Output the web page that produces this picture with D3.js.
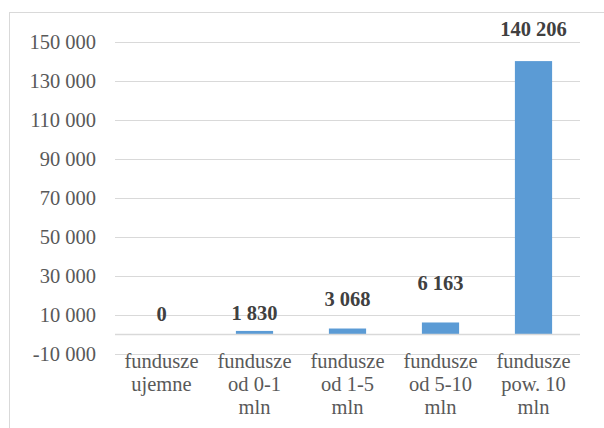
<!DOCTYPE html>
<html>
<head>
<meta charset="utf-8">
<script src="https://cdn.jsdelivr.net/npm/d3@7"></script>
<style>
  html, body { margin: 0; padding: 0; background: #fff; }
  svg { display: block; }
  svg text { font-family: 'Liberation Serif', 'Times New Roman', serif; font-size: 20.5px; }
</style>
</head>
<body>
<svg id="chart" width="604" height="428"></svg>
<script>
// Category labels (each entry is split into lines)
const categories = [
  ["fundusze", "ujemne"],
  ["fundusze", "od 0-1", "mln"],
  ["fundusze", "od 1-5", "mln"],
  ["fundusze", "od 5-10", "mln"],
  ["fundusze", "pow. 10", "mln"]
];
// Series values
const values = [0, 1830, 3068, 6163, 140206];
// Value axis ticks
const yTicks = [-10000, 10000, 30000, 50000, 70000, 90000, 110000, 130000, 150000];
const yDomain = [-10000, 150000];

// How far each data label sits above its bar end (px)
const labelLift = [14, 11, 23, 32, 25];

const W = 604, H = 428;
const plot = { left: 115, right: 580, top: 42, bottom: 354 };
const FONT = "'Liberation Serif', 'Times New Roman', serif";

const svg = d3.select("#chart");
// thousands separated by spaces, plain hyphen for negatives
const fmt = v => d3.format(",")(v).replace(/,/g, " ").replace("\u2212", "-");

// chart area border
svg.append("rect")
  .attr("x", 9.5).attr("y", 12.5)
  .attr("width", W + 10).attr("height", H + 10)
  .attr("fill", "#fff").attr("stroke", "#d9d9d9").attr("stroke-width", 1);

const x = d3.scaleBand()
  .domain(d3.range(categories.length))
  .range([plot.left, plot.right])
  .paddingInner(0.6).paddingOuter(0.3);

const xc = d3.scaleBand()
  .domain(d3.range(categories.length))
  .range([plot.left, plot.right]);

const y = d3.scaleLinear().domain(yDomain).range([plot.bottom, plot.top]);

// gridlines + tick labels via axis
const yAxis = d3.axisLeft(y)
  .tickValues(yTicks)
  .tickSize(-(plot.right - plot.left))
  .tickPadding(19)
  .tickFormat(fmt);

const gy = svg.append("g")
  .attr("transform", `translate(${plot.left},0)`)
  .call(yAxis)
  .attr("font-family", FONT)
  .attr("font-size", 20.5);
gy.select(".domain").remove();
gy.selectAll(".tick line").attr("stroke", "#d9d9d9").attr("stroke-width", 1);
gy.selectAll(".tick text").attr("fill", "#595959");

// bars
svg.append("g").selectAll("rect")
  .data(values)
  .join("rect")
  .attr("x", (d, i) => x(i))
  .attr("width", x.bandwidth())
  .attr("y", d => y(Math.max(0, d)))
  .attr("height", d => Math.abs(y(d) - y(0)))
  .attr("fill", "#5b9bd5");

// category axis line at zero
svg.append("line")
  .attr("x1", plot.left).attr("x2", plot.right)
  .attr("y1", y(0)).attr("y2", y(0))
  .attr("stroke", "#d9d9d9").attr("stroke-width", 1.3);

// data labels
svg.append("g").selectAll("text")
  .data(values)
  .join("text")
  .attr("x", (d, i) => xc(i) + xc.bandwidth() / 2)
  .attr("y", (d, i) => y(Math.max(0, d)) - labelLift[i])
  .attr("text-anchor", "middle")
  .attr("fill", "#404040")
  .style("font-weight", "bold")
  .text(d => fmt(d));

// category labels
const cat = svg.append("g").selectAll("text")
  .data(categories)
  .join("text")
  .attr("x", (d, i) => xc(i) + xc.bandwidth() / 2)
  .attr("y", 368)
  .attr("text-anchor", "middle")
  .attr("fill", "#595959");
cat.each(function (lines) {
  const t = d3.select(this);
  const cx = t.attr("x");
  lines.forEach((ln, k) => {
    t.append("tspan").attr("x", cx).attr("dy", k === 0 ? 0 : 23).text(ln);
  });
});
</script>
</body>
</html>
